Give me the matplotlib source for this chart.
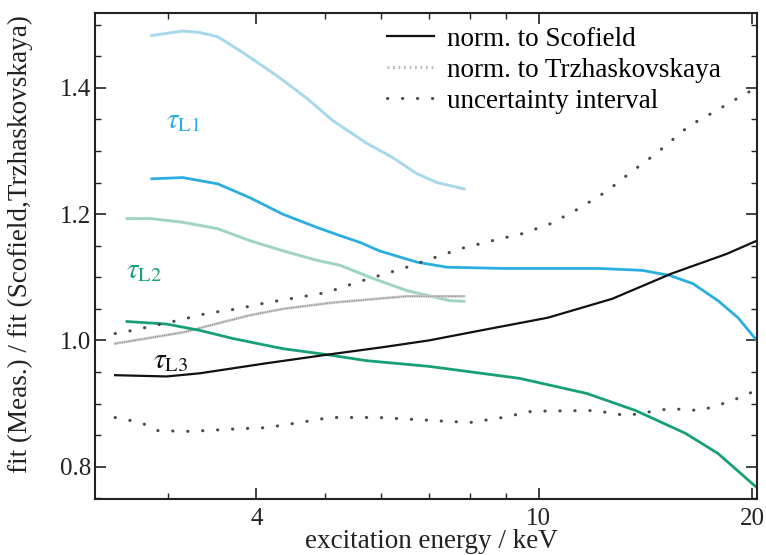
import matplotlib
matplotlib.use("Agg")
import matplotlib.pyplot as plt
from matplotlib.ticker import FixedLocator, NullFormatter, MultipleLocator

plt.rcParams['font.family'] = ['Liberation Serif', 'DejaVu Serif']
plt.rcParams['mathtext.fontset'] = 'stix'

# -----------------------------
# data (energy in keV)
# -----------------------------
e_l1 = [2.85, 3.15, 3.53, 3.92, 4.36, 4.87, 5.25, 5.61, 5.96, 6.74, 7.43, 9.0,
        10.7, 12.2, 14.0, 15.3, 16.5, 17.9, 19.1, 20.3]
l1_scof = [1.256, 1.258, 1.248, 1.226, 1.200, 1.179, 1.166, 1.155, 1.142, 1.124,
           1.116, 1.114, 1.114, 1.114, 1.111, 1.103, 1.090, 1.063, 1.036, 1.000]

e_l1_tr = [2.85, 3.15, 3.32, 3.53, 3.83, 4.28, 4.72, 5.13, 5.73, 6.22, 6.74, 7.2, 7.85]
l1_tr = [1.483, 1.490, 1.488, 1.481, 1.456, 1.419, 1.383, 1.348, 1.312, 1.290,
         1.264, 1.250, 1.240]

e_l2 = [2.63, 2.99, 3.33, 3.71, 4.36, 5.0, 5.72, 7.0, 9.4, 11.7, 13.7, 16.1, 17.9, 20.3]
l2_scof = [1.030, 1.026, 1.016, 1.003, 0.987, 0.978, 0.968, 0.959, 0.940, 0.916,
           0.889, 0.853, 0.821, 0.767]

e_l2_tr = [2.63, 2.84, 3.16, 3.53, 3.92, 4.36, 4.87, 5.25, 5.85, 6.52, 7.5, 7.85]
l2_tr = [1.193, 1.193, 1.187, 1.177, 1.158, 1.142, 1.127, 1.119, 1.098, 1.079,
         1.063, 1.062]

e_l3 = [2.53, 2.99, 3.33, 4.14, 5.0, 6.0, 7.0, 8.3, 10.3, 12.7, 15.4, 18.4, 20.3]
l3_scof = [0.945, 0.943, 0.948, 0.964, 0.977, 0.989, 1.000, 1.016, 1.036, 1.066,
           1.106, 1.137, 1.158]

e_l3_tr = [2.53, 3.16, 3.53, 3.92, 4.36, 5.13, 6.52, 7.85]
l3_tr = [0.995, 1.013, 1.027, 1.040, 1.050, 1.060, 1.070, 1.070]

e_up = [2.53, 2.68, 3.11, 3.41, 3.76, 4.14, 4.57, 5.03, 5.54, 6.44, 7.08, 7.8, 8.6,
        9.47, 10.4, 11.4, 12.5, 13.4, 14.6, 16.3, 17.8, 19.5, 20.3]
unc_up = [1.011, 1.016, 1.032, 1.043, 1.050, 1.060, 1.068, 1.076, 1.092, 1.114,
          1.130, 1.146, 1.158, 1.169, 1.185, 1.209, 1.237, 1.264, 1.295, 1.340,
          1.364, 1.390, 1.400]

e_lo = [2.53, 2.75, 2.91, 3.23, 3.76, 4.14, 4.6, 5.08, 5.95, 6.9, 8.0, 8.9, 9.8,
        12.0, 13.3, 15.3, 16.9, 18.8, 19.6, 20.3]
unc_lo = [0.878, 0.870, 0.857, 0.856, 0.860, 0.862, 0.870, 0.878, 0.878, 0.874,
          0.870, 0.878, 0.888, 0.889, 0.881, 0.892, 0.889, 0.905, 0.915, 0.920]

major_x = [4, 10, 20]
minor_x = [3, 5, 6, 7, 8, 9]

# colours
c_l1 = '#2aaee0'
c_l1_light = '#afdcee'
c_l2 = '#17a078'
c_l2_light = '#a8d9c5'
c_unc = '#4a4a4a'

# -----------------------------
# plot
# -----------------------------
fig = plt.figure(figsize=(7.66, 5.55), dpi=100)
ax = fig.add_axes([0.124, 0.101, 0.864, 0.876])
ax.set_xscale('log')

dots = (0, (0.1, 4.8))
dense = (0, (0.6, 1.2))

# Trzhaskovskaya curves: light solid with fine dots on top
ax.plot(e_l1_tr, l1_tr, color=c_l1_light, lw=2.2)
ax.plot(e_l1_tr, l1_tr, color='#8ccbe3', lw=0.9, ls=dense)
ax.plot(e_l2_tr, l2_tr, color=c_l2_light, lw=2.2)
ax.plot(e_l2_tr, l2_tr, color='#86c4ab', lw=0.9, ls=dense)
ax.plot(e_l3_tr, l3_tr, color='#cccccc', lw=2.0)
ax.plot(e_l3_tr, l3_tr, color='#777777', lw=0.9, ls=dense)

# Scofield curves
ax.plot(e_l1, l1_scof, color=c_l1, lw=2.0)
ax.plot(e_l2, l2_scof, color=c_l2, lw=2.0)
ax.plot(e_l3, l3_scof, color='#111111', lw=1.6)

# uncertainty interval
ax.plot(e_up, unc_up, color=c_unc, lw=2.2, ls=dots, dash_capstyle='round')
ax.plot(e_lo, unc_lo, color=c_unc, lw=2.2, ls=dots, dash_capstyle='round')

# curve labels
ax.text(2.98, 1.348, r'$\tau_{\rm L1}$', color=c_l1, fontsize=21, va='center')
ax.text(2.62, 1.110, r'$\tau_{\rm L2}$', color=c_l2, fontsize=21, va='center')
ax.text(2.86, 0.968, r'$\tau_{\rm L3}$', color='#111111', fontsize=21, va='center')

# legend handles
h1, = ax.plot([], [], color='#111111', lw=1.6)
h2, = ax.plot([], [], color='#bbbbbb', lw=2.2, ls=dense)
h3, = ax.plot([], [], color=c_unc, lw=2.2, ls=dots, dash_capstyle='round')
ax.legend([h1, h2, h3],
          ['norm. to Scofield', 'norm. to Trzhaskovskaya', 'uncertainty interval'],
          loc='upper left', bbox_to_anchor=(0.441, 0.971), frameon=False,
          fontsize=19.5, handlelength=1.75, handletextpad=0.48, labelspacing=0.22,
          borderpad=0, borderaxespad=0)

ax.set_xlim(2.37, 20.3)
ax.set_ylim(0.749, 1.519)

ax.xaxis.set_major_locator(FixedLocator(major_x))
ax.xaxis.set_minor_locator(FixedLocator(minor_x))
ax.set_xticklabels([str(v) for v in major_x])
ax.xaxis.set_minor_formatter(NullFormatter())
ax.yaxis.set_major_locator(MultipleLocator(0.2))
ax.yaxis.set_minor_locator(MultipleLocator(0.05))
ax.yaxis.set_major_formatter(plt.FuncFormatter(lambda v, p: f"{v:.1f}"))

ax.tick_params(which='both', direction='in', top=True, right=True,
               labelsize=18, colors='#222222')
ax.tick_params(axis='x', pad=6.5)
ax.tick_params(axis='y', pad=3)
ax.tick_params(which='major', length=8, width=1.2)
ax.tick_params(which='minor', length=4, width=1.0)
for s in ax.spines.values():
    s.set_linewidth(1.5)
    s.set_color('#222222')

ax.set_xlabel('excitation energy / keV', fontsize=19.5, color='#222222')
ax.set_ylabel('fit (Meas.) / fit (Scofield,Trzhaskovskaya)', fontsize=19.5,
              color='#222222')
ax.xaxis.set_label_coords(0.509, -0.062)
ax.yaxis.set_label_coords(-0.094, 0.525)

fig.savefig('out.png', dpi=100)
